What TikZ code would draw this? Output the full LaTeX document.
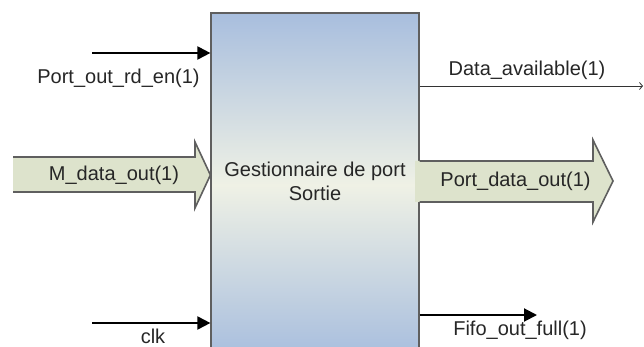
\documentclass[tikz,border=0pt]{standalone}
\usepackage{fontspec}
\setmainfont{Liberation Sans}
\usepackage{tikz}
\usetikzlibrary{positioning, calc, arrows.meta}

\definecolor{boxblue}{RGB}{168,190,222}
\definecolor{boxpale}{RGB}{239,241,229}
\definecolor{busgreen}{RGB}{221,227,204}
\definecolor{edgegray}{RGB}{95,95,95}

\begin{document}
\begin{tikzpicture}[x=1pt, y=-1pt,
        block/.style={
            rectangle, draw=edgegray, line width=1.2pt,
            minimum width=208pt, minimum height=344pt,
            top color=boxblue, bottom color=boxblue, middle color=boxpale
        },
        lbl/.style={font=\fontsize{20}{24}\selectfont, text=black!85, inner sep=0pt, anchor=base},
        sig/.style={-{Triangle[length=13pt, width=13pt]}, line width=2pt, black},
        thinsig/.style={-{Straight Barb[length=3pt, width=7pt]}, line width=0.8pt, black!80},
        bus/.style={fill=busgreen},
        busedge/.style={draw=edgegray, line width=1.6pt, line join=miter}
    ]
    \useasboundingbox (0,0) rectangle (644,347);
    \clip (0,0) rectangle (644,347);

    \node[block] (gest) at (315,185) {};

    % control signals
    \coordinate (rdsrc) at (92,53);
    \coordinate (clksrc) at (92,323);
    \coordinate (availdst) at (643,86);
    \coordinate (fulldst) at (537,315);

    \draw[sig] (rdsrc) -- (rdsrc -| gest.west);
    \draw[sig] (clksrc) -- (clksrc -| gest.west);
    \draw[thinsig] (availdst -| gest.east) -- (availdst);
    \draw[sig] (fulldst -| gest.east) -- (fulldst);

    % data buses
    \coordinate (mtip) at (gest.west |- 0,175);
    \coordinate (ptip) at (613,181);
    \path[bus] (13,157) -- (195,157) -- (195,142) -- (mtip) -- (195,208) -- (195,192) -- (13,192) -- cycle;
    \draw[busedge] (13,157) -- (195,157) -- (195,142) -- (mtip) -- (195,208) -- (195,192) -- (13,192);
    \path[bus] (415,161) -- (593,161) -- (593,140) -- (ptip) -- (593,222) -- (593,202) -- (415,202) -- cycle;
    \draw[busedge] (gest.east |- 0,161) -- (593,161) -- (593,140) -- (ptip) -- (593,222) -- (593,202) -- (gest.east |- 0,202);

    \node[lbl, align=center, anchor=center] (gesttxt) at (315,181) {Gestionnaire de port\\Sortie};
    \node[lbl] (rdlbl) at (118.5,84) {Port\_out\_rd\_en(1)};
    \node[lbl] (mlbl) at (114,181) {M\_data\_out(1)};
    \node[lbl] (clklbl) at (153,343) {clk};
    \node[lbl] (availlbl) at (527,76) {Data\_available(1)};
    \node[lbl] (plbl) at (515.5,187) {Port\_data\_out(1)};
    \node[lbl] (fulllbl) at (520,335) {Fifo\_out\_full(1)};
\end{tikzpicture}
\end{document}
